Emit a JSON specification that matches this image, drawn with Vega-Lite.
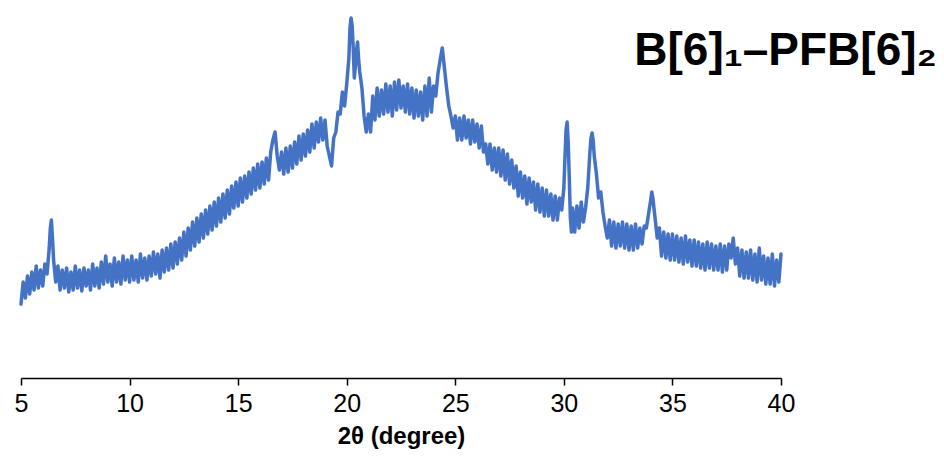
{
  "$schema": "https://vega.github.io/schema/vega-lite/v6.json",
  "width": 760,
  "height": 368,
  "autosize": {"type": "none"},
  "padding": {"left": 21, "top": 10, "right": 163, "bottom": 90},
  "background": "white",
  "config": {"view": {"stroke": null}},
  "data": {
    "values": [
      {"x":5.0,"y":74},{"x":5.1,"y":96},{"x":5.2,"y":80},{"x":5.3,"y":102},{"x":5.4,"y":84},{"x":5.5,"y":106},{"x":5.6,"y":88},{"x":5.7,"y":112},{"x":5.8,"y":90},{"x":5.9,"y":108},
      {"x":6.0,"y":92},{"x":6.1,"y":114},{"x":6.2,"y":104},{"x":6.3,"y":130},{"x":6.35,"y":150},{"x":6.4,"y":158},{"x":6.45,"y":140},{"x":6.5,"y":118},{"x":6.6,"y":96},{"x":6.7,"y":112},{"x":6.8,"y":88},{"x":6.9,"y":108},
      {"x":7.0,"y":90},{"x":7.1,"y":110},{"x":7.2,"y":86},{"x":7.3,"y":106},{"x":7.4,"y":88},{"x":7.5,"y":112},{"x":7.6,"y":90},{"x":7.7,"y":108},{"x":7.8,"y":87},{"x":7.9,"y":110},
      {"x":8.0,"y":92},{"x":8.1,"y":108},{"x":8.2,"y":88},{"x":8.3,"y":114},{"x":8.4,"y":92},{"x":8.5,"y":110},{"x":8.6,"y":90},{"x":8.7,"y":116},{"x":8.8,"y":94},{"x":8.9,"y":122},
      {"x":9.0,"y":96},{"x":9.1,"y":114},{"x":9.2,"y":92},{"x":9.3,"y":120},{"x":9.4,"y":96},{"x":9.5,"y":116},{"x":9.6,"y":94},{"x":9.7,"y":122},{"x":9.8,"y":98},{"x":9.9,"y":118},
      {"x":10.0,"y":96},{"x":10.1,"y":122},{"x":10.2,"y":98},{"x":10.3,"y":118},{"x":10.4,"y":96},{"x":10.5,"y":124},{"x":10.6,"y":100},{"x":10.7,"y":120},{"x":10.8,"y":98},{"x":10.9,"y":122},
      {"x":11.0,"y":102},{"x":11.1,"y":126},{"x":11.2,"y":104},{"x":11.3,"y":124},{"x":11.4,"y":100},{"x":11.5,"y":128},{"x":11.6,"y":106},{"x":11.7,"y":130},{"x":11.8,"y":108},{"x":11.9,"y":134},
      {"x":12.0,"y":110},{"x":12.1,"y":136},{"x":12.2,"y":114},{"x":12.3,"y":140},{"x":12.4,"y":118},{"x":12.5,"y":146},{"x":12.6,"y":122},{"x":12.7,"y":150},{"x":12.8,"y":128},{"x":12.9,"y":156},
      {"x":13.0,"y":132},{"x":13.1,"y":160},{"x":13.2,"y":136},{"x":13.3,"y":164},{"x":13.4,"y":140},{"x":13.5,"y":168},{"x":13.6,"y":144},{"x":13.7,"y":172},{"x":13.8,"y":148},{"x":13.9,"y":176},
      {"x":14.0,"y":152},{"x":14.1,"y":180},{"x":14.2,"y":156},{"x":14.3,"y":184},{"x":14.4,"y":160},{"x":14.5,"y":188},{"x":14.6,"y":164},{"x":14.7,"y":192},{"x":14.8,"y":170},{"x":14.9,"y":196},
      {"x":15.0,"y":172},{"x":15.1,"y":200},{"x":15.2,"y":176},{"x":15.3,"y":202},{"x":15.4,"y":180},{"x":15.5,"y":206},{"x":15.6,"y":184},{"x":15.7,"y":210},{"x":15.8,"y":188},{"x":15.9,"y":214},
      {"x":16.0,"y":190},{"x":16.1,"y":216},{"x":16.2,"y":194},{"x":16.3,"y":220},{"x":16.4,"y":198},{"x":16.5,"y":226},{"x":16.6,"y":238},{"x":16.7,"y":246},{"x":16.8,"y":222},{"x":16.9,"y":208},
      {"x":17.0,"y":226},{"x":17.1,"y":204},{"x":17.2,"y":230},{"x":17.3,"y":206},{"x":17.4,"y":232},{"x":17.5,"y":210},{"x":17.6,"y":236},{"x":17.7,"y":214},{"x":17.8,"y":242},{"x":17.9,"y":218},
      {"x":18.0,"y":244},{"x":18.1,"y":222},{"x":18.2,"y":248},{"x":18.3,"y":226},{"x":18.4,"y":254},{"x":18.5,"y":230},{"x":18.6,"y":256},{"x":18.7,"y":236},{"x":18.8,"y":260},{"x":18.9,"y":238},
      {"x":19.0,"y":258},{"x":19.1,"y":232},{"x":19.2,"y":222},{"x":19.3,"y":212},{"x":19.4,"y":240},{"x":19.5,"y":246},{"x":19.6,"y":266},{"x":19.7,"y":264},{"x":19.8,"y":286},{"x":19.9,"y":272},
      {"x":20.0,"y":294},{"x":20.1,"y":320},{"x":20.15,"y":350},{"x":20.2,"y":360},{"x":20.25,"y":352},{"x":20.3,"y":330},{"x":20.35,"y":300},{"x":20.4,"y":312},{"x":20.45,"y":328},{"x":20.5,"y":336},{"x":20.55,"y":318},{"x":20.6,"y":306},{"x":20.7,"y":290},{"x":20.8,"y":262},{"x":20.9,"y":246},
      {"x":21.0,"y":264},{"x":21.1,"y":246},{"x":21.2,"y":282},{"x":21.3,"y":258},{"x":21.4,"y":290},{"x":21.5,"y":262},{"x":21.6,"y":288},{"x":21.7,"y":264},{"x":21.8,"y":294},{"x":21.9,"y":266},
      {"x":22.0,"y":292},{"x":22.1,"y":262},{"x":22.2,"y":296},{"x":22.3,"y":268},{"x":22.4,"y":298},{"x":22.5,"y":270},{"x":22.6,"y":292},{"x":22.7,"y":266},{"x":22.8,"y":294},{"x":22.9,"y":264},
      {"x":23.0,"y":290},{"x":23.1,"y":260},{"x":23.2,"y":288},{"x":23.3,"y":262},{"x":23.4,"y":286},{"x":23.5,"y":258},{"x":23.6,"y":292},{"x":23.7,"y":262},{"x":23.8,"y":300},{"x":23.9,"y":266},
      {"x":24.0,"y":292},{"x":24.1,"y":282},{"x":24.2,"y":304},{"x":24.3,"y":318},{"x":24.4,"y":330},{"x":24.5,"y":310},{"x":24.6,"y":290},{"x":24.7,"y":272},{"x":24.8,"y":262},{"x":24.9,"y":250},
      {"x":25.0,"y":262},{"x":25.1,"y":238},{"x":25.2,"y":260},{"x":25.3,"y":238},{"x":25.4,"y":262},{"x":25.5,"y":240},{"x":25.6,"y":258},{"x":25.7,"y":234},{"x":25.8,"y":258},{"x":25.9,"y":236},
      {"x":26.0,"y":254},{"x":26.1,"y":230},{"x":26.2,"y":252},{"x":26.3,"y":226},{"x":26.4,"y":234},{"x":26.5,"y":214},{"x":26.6,"y":234},{"x":26.7,"y":208},{"x":26.8,"y":230},{"x":26.9,"y":206},
      {"x":27.0,"y":230},{"x":27.1,"y":202},{"x":27.2,"y":228},{"x":27.3,"y":198},{"x":27.4,"y":224},{"x":27.5,"y":194},{"x":27.6,"y":218},{"x":27.7,"y":190},{"x":27.8,"y":212},{"x":27.9,"y":182},
      {"x":28.0,"y":206},{"x":28.1,"y":180},{"x":28.2,"y":202},{"x":28.3,"y":174},{"x":28.4,"y":200},{"x":28.5,"y":176},{"x":28.6,"y":196},{"x":28.7,"y":168},{"x":28.8,"y":194},{"x":28.9,"y":166},
      {"x":29.0,"y":190},{"x":29.1,"y":162},{"x":29.2,"y":188},{"x":29.3,"y":162},{"x":29.4,"y":184},{"x":29.5,"y":158},{"x":29.6,"y":182},{"x":29.7,"y":158},{"x":29.8,"y":180},{"x":29.9,"y":168},
      {"x":30.0,"y":190},{"x":30.05,"y":220},{"x":30.1,"y":248},{"x":30.15,"y":256},{"x":30.2,"y":236},{"x":30.25,"y":200},{"x":30.3,"y":160},{"x":30.35,"y":146},{"x":30.4,"y":170},{"x":30.5,"y":146},{"x":30.6,"y":172},{"x":30.7,"y":150},{"x":30.8,"y":176},{"x":30.9,"y":156},
      {"x":31.0,"y":170},{"x":31.1,"y":190},{"x":31.2,"y":226},{"x":31.25,"y":240},{"x":31.3,"y":245},{"x":31.35,"y":238},{"x":31.4,"y":222},{"x":31.5,"y":204},{"x":31.6,"y":180},{"x":31.7,"y":186},{"x":31.8,"y":166},{"x":31.9,"y":152},
      {"x":32.0,"y":140},{"x":32.1,"y":158},{"x":32.2,"y":132},{"x":32.3,"y":156},{"x":32.4,"y":130},{"x":32.5,"y":154},{"x":32.6,"y":132},{"x":32.7,"y":156},{"x":32.8,"y":130},{"x":32.9,"y":154},
      {"x":33.0,"y":128},{"x":33.1,"y":152},{"x":33.2,"y":128},{"x":33.3,"y":154},{"x":33.4,"y":130},{"x":33.5,"y":150},{"x":33.6,"y":134},{"x":33.7,"y":152},{"x":33.8,"y":150},{"x":33.9,"y":164},
      {"x":34.0,"y":178},{"x":34.05,"y":186},{"x":34.1,"y":180},{"x":34.2,"y":160},{"x":34.3,"y":140},{"x":34.4,"y":150},{"x":34.5,"y":122},{"x":34.6,"y":146},{"x":34.7,"y":120},{"x":34.8,"y":144},{"x":34.9,"y":118},
      {"x":35.0,"y":144},{"x":35.1,"y":118},{"x":35.2,"y":142},{"x":35.3,"y":116},{"x":35.4,"y":140},{"x":35.5,"y":114},{"x":35.6,"y":142},{"x":35.7,"y":116},{"x":35.8,"y":138},{"x":35.9,"y":112},
      {"x":36.0,"y":138},{"x":36.1,"y":112},{"x":36.2,"y":136},{"x":36.3,"y":110},{"x":36.4,"y":134},{"x":36.5,"y":108},{"x":36.6,"y":136},{"x":36.7,"y":110},{"x":36.8,"y":134},{"x":36.9,"y":108},
      {"x":37.0,"y":132},{"x":37.1,"y":108},{"x":37.2,"y":134},{"x":37.3,"y":106},{"x":37.4,"y":132},{"x":37.5,"y":108},{"x":37.6,"y":134},{"x":37.7,"y":120},{"x":37.8,"y":140},{"x":37.9,"y":114},
      {"x":38.0,"y":130},{"x":38.1,"y":102},{"x":38.2,"y":128},{"x":38.3,"y":100},{"x":38.4,"y":126},{"x":38.5,"y":100},{"x":38.6,"y":128},{"x":38.7,"y":98},{"x":38.8,"y":124},{"x":38.9,"y":96},
      {"x":39.0,"y":130},{"x":39.1,"y":98},{"x":39.2,"y":122},{"x":39.3,"y":94},{"x":39.4,"y":120},{"x":39.5,"y":94},{"x":39.6,"y":124},{"x":39.7,"y":92},{"x":39.8,"y":118},{"x":39.9,"y":96},
      {"x":40.0,"y":124}
    ]
  },
  "layer": [
    {
      "mark": {"type": "line", "color": "#4472C4", "strokeWidth": 3.5, "strokeJoin": "round", "strokeCap": "round", "clip": false},
      "encoding": {
        "x": {
          "field": "x",
          "type": "quantitative",
          "scale": {"domain": [5, 40], "nice": false, "zero": false},
          "axis": {
            "values": [5, 10, 15, 20, 25, 30, 35, 40],
            "grid": false,
            "title": "2θ (degree)",
            "titleFont": "Liberation Sans",
            "titleFontSize": 24,
            "titleFontWeight": "bold",
            "titleColor": "black",
            "titlePadding": 8,
            "labelFont": "Liberation Sans",
            "labelFontSize": 25,
            "labelColor": "black",
            "labelPadding": 6,
            "labelFlush": false,
            "domainColor": "black",
            "domainWidth": 1.5,
            "tickColor": "black",
            "tickWidth": 1.5,
            "tickSize": 7
          }
        },
        "y": {
          "field": "y",
          "type": "quantitative",
          "scale": {"domain": [0, 368], "nice": false},
          "axis": null
        }
      }
    },
    {
      "data": {"values": [{"label": "B[6]₁–PFB[6]₂", "x": 40, "y": 313}]},
      "mark": {"type": "text", "align": "right", "baseline": "alphabetic", "dx": 156, "font": "Liberation Sans", "fontSize": 46, "fontWeight": "bold", "color": "black", "clip": false},
      "encoding": {
        "x": {"field": "x", "type": "quantitative"},
        "y": {"field": "y", "type": "quantitative"},
        "text": {"field": "label"}
      }
    }
  ]
}
